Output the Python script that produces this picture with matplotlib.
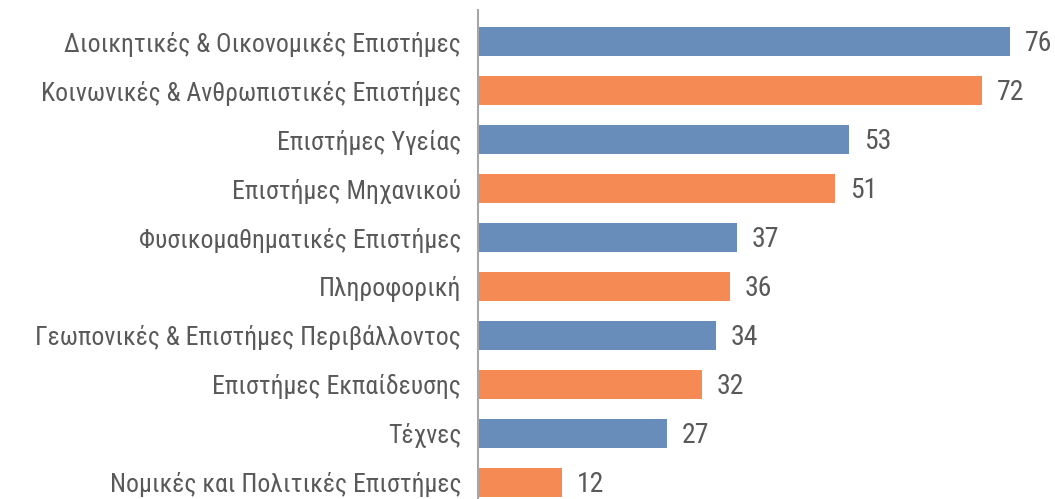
import matplotlib
matplotlib.use("Agg")
import matplotlib.pyplot as plt

categories = [
    "Διοικητικές & Οικονομικές Επιστήμες",
    "Κοινωνικές & Ανθρωπιστικές Επιστήμες",
    "Επιστήμες Υγείας",
    "Επιστήμες Μηχανικού",
    "Φυσικομαθηματικές Επιστήμες",
    "Πληροφορική",
    "Γεωπονικές & Επιστήμες Περιβάλλοντος",
    "Επιστήμες Εκπαίδευσης",
    "Τέχνες",
    "Νομικές και Πολιτικές Επιστήμες",
]
values = [76, 72, 53, 51, 37, 36, 34, 32, 27, 12]
palette = ["#688dba", "#f58a55"]

plt.rcParams["font.family"] = ["Roboto Condensed", "DejaVu Sans"]

W, H = 1055, 499
fig = plt.figure(figsize=(W / 100, H / 100), dpi=100)
# axes placed in pixels: left edge 478, top 10, bottom below the image
ax = fig.add_axes([478 / W, 1 - 514 / H, 560 / W, 504 / H])

ypos = list(range(len(categories)))
colors = [palette[i % 2] for i in ypos]
ax.barh(ypos, values, height=0.59, color=colors)
ax.set_xlim(0, 80)
ax.set_ylim(9.643, -0.643)

for y, v in zip(ypos, values):
    ax.text(v + 2.1, y + 0.04, str(v), va="center", ha="left", fontsize=20, color="#595959")

ax.set_yticks(ypos)
ax.set_yticklabels(categories, fontsize=18.5, color="#595959")
ax.tick_params(axis="y", length=0, pad=12)
ax.set_xticks([])
for s in ["top", "right", "bottom"]:
    ax.spines[s].set_visible(False)
ax.spines["left"].set_color("#a6a6a6")
ax.spines["left"].set_linewidth(1.5)

fig.savefig("out.png", dpi=100)
